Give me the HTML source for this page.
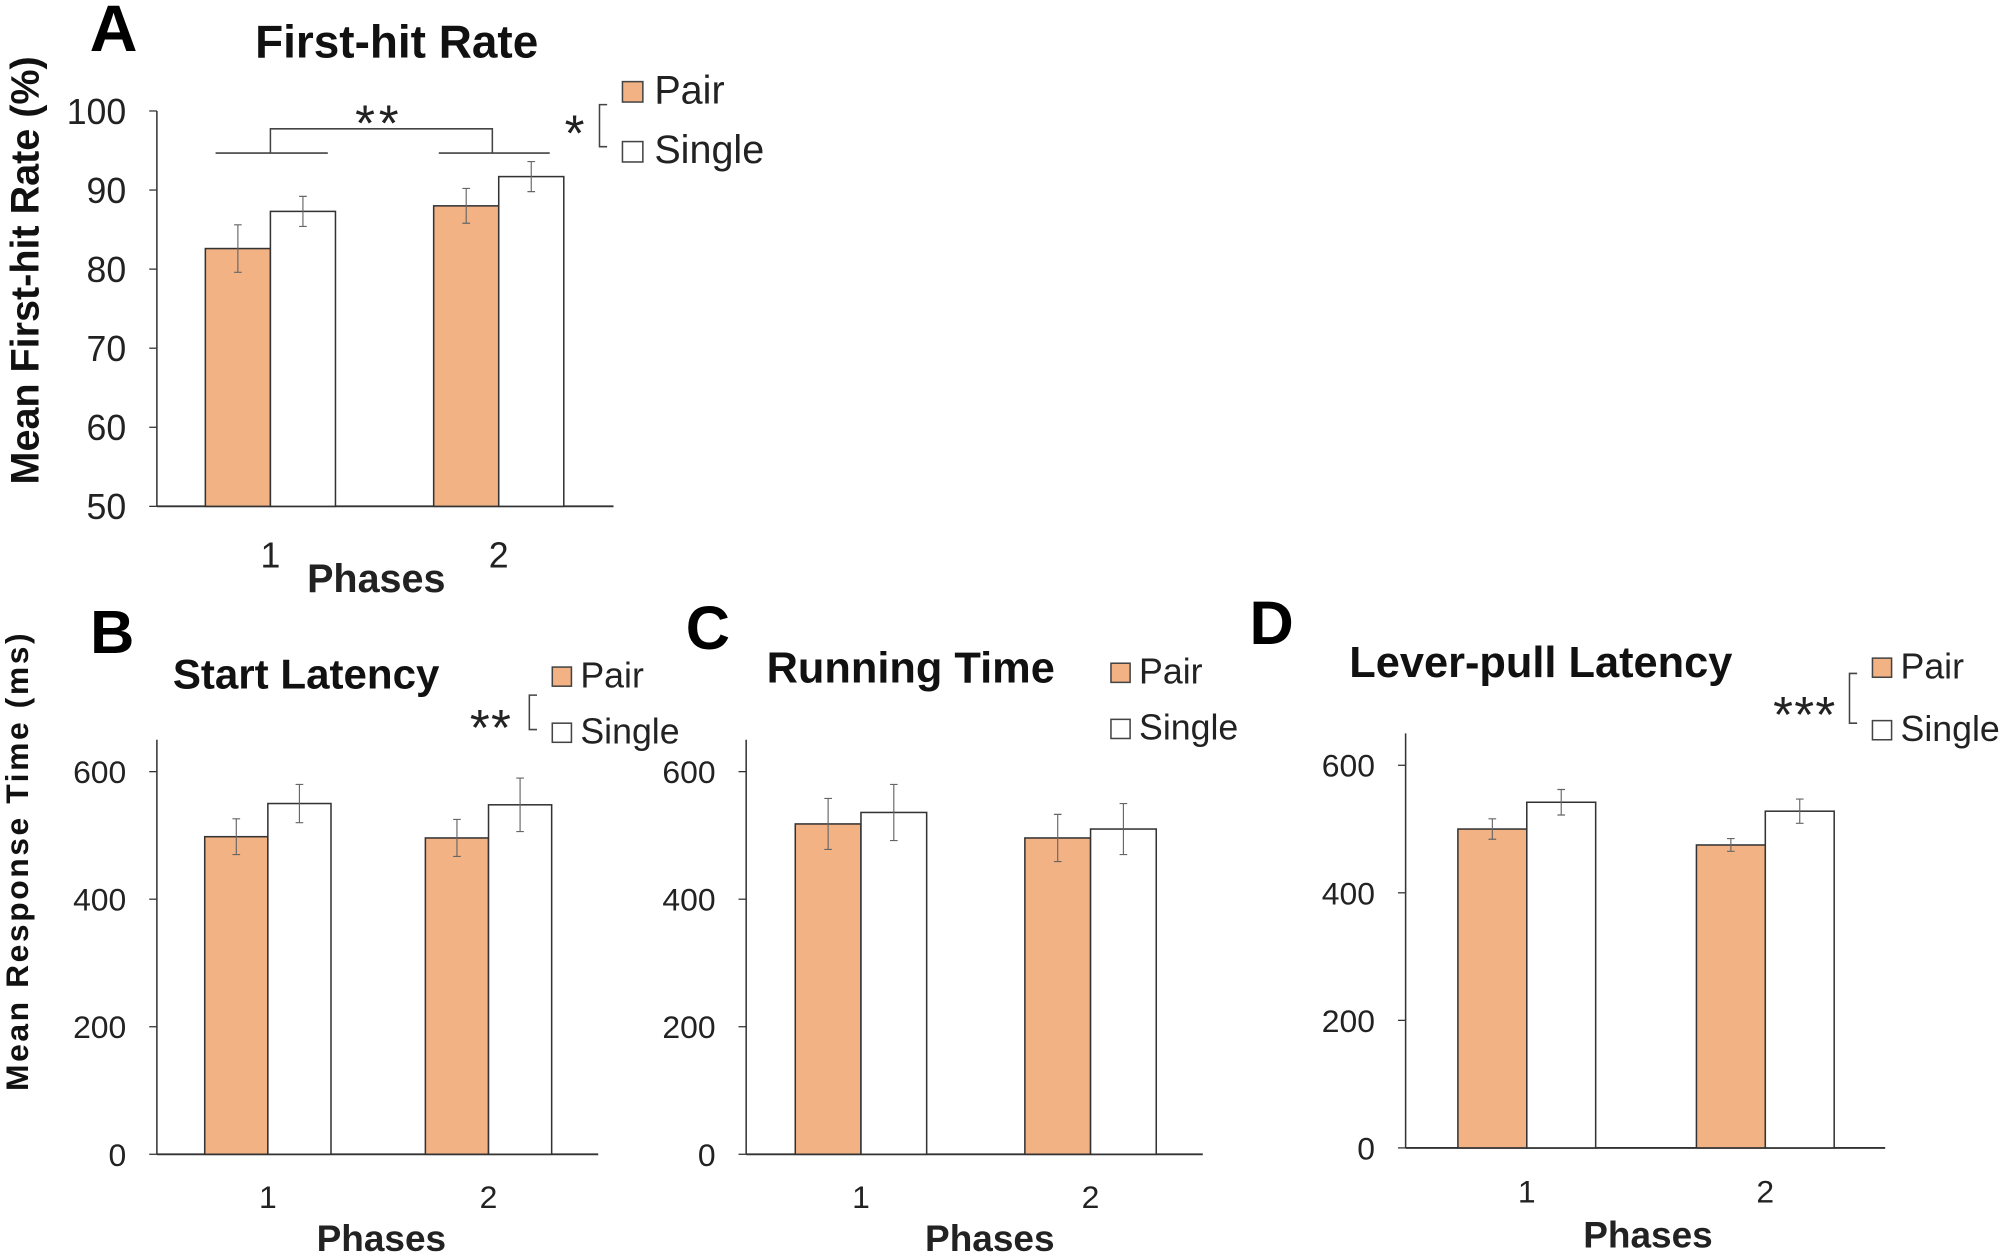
<!DOCTYPE html>
<html><head><meta charset="utf-8"><style>
html,body{margin:0;padding:0;background:#fff;}
svg{display:block;font-family:"Liberation Sans",Arial,sans-serif;}
</style></head><body>
<svg id="fig" width="2000" height="1253" viewBox="0 0 1568 982.4" preserveAspectRatio="none" xmlns="http://www.w3.org/2000/svg"></svg>
<script>
// ---- data ----
const categories = ["1","2"];
const aPair = [82.6, 88.0];
const aSingle = [87.3, 91.7];
const aPairErr = [3.0, 2.2];
const aSingleErr = [1.9, 1.9];
const aTicks = [50,60,70,80,90,100];

const bPair = [498, 496];
const bSingle = [550, 548];
const bPairErr = [28, 29];
const bSingleErr = [30, 42];

const cPair = [518, 496];
const cSingle = [536, 510];
const cPairErr = [40, 37];
const cSingleErr = [44, 40];

const dPair = [500, 475];
const dSingle = [542, 528];
const dPairErr = [16, 10];
const dSingleErr = [20, 19];
const msTicks = [0,200,400,600];

const NS="http://www.w3.org/2000/svg";
const svg=document.getElementById('fig');
function mk(tag,attrs,parent){const e=document.createElementNS(NS,tag);for(const k in attrs)e.setAttribute(k,attrs[k]);(parent||svg).appendChild(e);return e;}
function txt(s,attrs,parent){const e=mk('text',attrs,parent);e.textContent=s;return e;}

function panel(cfg){
  const g=mk('g',{});
  
  
  const y=v=>cfg.y0-(v-cfg.vmin)/(cfg.vmax-cfg.vmin)*(cfg.y0-cfg.yTop);
  const ya=mk('line',{x1:cfg.ax,y1:cfg.axTop,x2:cfg.ax,y2:cfg.y0,stroke:'#333','stroke-width':1.2},g);
  
  const xa=mk('line',{x1:cfg.ax,y1:cfg.y0,x2:cfg.axRight,y2:cfg.y0,stroke:'#333','stroke-width':1.5},g);
  
  cfg.ticks.forEach(t=>{
    mk('line',{x1:cfg.ax-6,y1:y(t),x2:cfg.ax,y2:y(t),stroke:'#333','stroke-width':1},g);
    const tl=txt(String(t),{x:cfg.ax-24,y:y(t)+cfg.tickFs*0.36,'text-anchor':'end','font-size':cfg.tickFs,fill:'#222'},g);
    
  });
  categories.forEach((c,i)=>{
    const gx=cfg.groupX[i], w=cfg.barW;
    const series=[[cfg.pair,cfg.pairErr,'#f3b284','pair'],[cfg.single,cfg.singleErr,'#ffffff','single']];
    series.forEach((s,j)=>{
      const x=gx-w+j*w, v=s[0][i], e=s[1][i];
      const r=mk('rect',{x:x,y:y(v),width:w,height:cfg.y0-y(v),fill:s[2],stroke:'#333','stroke-width':1.2},g);
      
      const cx=x+w/2;
      const eb=mk('path',{d:`M${cx},${y(v+e)}V${y(v-e)}M${cx-3},${y(v+e)}H${cx+3}M${cx-3},${y(v-e)}H${cx+3}`,stroke:'#666','stroke-width':0.9,fill:'none'},g);
      
    });
    const cl=txt(c,{x:gx,y:cfg.catY,'text-anchor':'middle','font-size':cfg.tickFs,fill:'#222'},g);
    
  });
  const xt=txt('Phases',{x:cfg.phX,y:cfg.phY,'text-anchor':'middle','font-size':cfg.phFs,'font-weight':'bold',fill:'#222'},g);
  
  const tt=txt(cfg.title,{x:cfg.titleX,y:cfg.titleY,'text-anchor':'middle','font-size':cfg.titleFs,'font-weight':'bold',fill:'#111'},g);
  
  const lt=txt(cfg.letter,{x:cfg.letterX,y:cfg.letterY,'text-anchor':'middle','font-size':cfg.letterFs,'font-weight':'bold',fill:'#000'},g);
  
  const L=cfg.leg;
  const p=mk('rect',{x:L.bx,y:L.py,width:L.bs,height:L.bs,fill:'#f3b284',stroke:'#444','stroke-width':1.2},g);
  
  const pt=txt('Pair',{x:L.tx,y:L.py+L.bs+1,'font-size':L.fs,fill:'#222'},g);
  
  const s=mk('rect',{x:L.bx,y:L.sy,width:L.bs,height:L.bs,fill:'#fff',stroke:'#444','stroke-width':1.2},g);
  
  const st=txt('Single',{x:L.tx,y:L.sy+L.bs+1,'font-size':L.fs,fill:'#222'},g);
  
  if(cfg.sig){
    const S=cfg.sig;
    const br=mk('path',{d:`M${S.x+6},${S.y1}H${S.x}V${S.y2}H${S.x+6}`,stroke:'#444','stroke-width':1.2,fill:'none'},g);
    
    const sm=txt(S.mark,{x:S.tx,y:S.ty,'text-anchor':'middle','font-size':40,fill:'#222','letter-spacing':1},g);
    
  }
  return g;
}

panel({name:'panel-a',letter:'A',letterX:89,letterY:40,letterFs:52,title:'First-hit Rate',titleX:311,titleY:45,titleFs:36,
  ax:123,axTop:87,axRight:481,y0:397,yTop:87,vmin:50,vmax:100,ticks:aTicks,tickFs:28,
  groupX:[212,391],barW:51,pair:aPair,single:aSingle,pairErr:aPairErr,singleErr:aSingleErr,
  catY:445,phX:295,phY:464,phFs:31,
  leg:{bx:488,bs:16,py:64,sy:111,tx:513,fs:31},
  sig:{x:470,y1:82,y2:115,mark:'*',tx:451,ty:118}});
const gb=mk('path',{d:'M169,120H257M344,120H431M212,120V101H386V120',stroke:'#444','stroke-width':1.2,fill:'none'});


const gm=txt('**',{x:297,y:110,'text-anchor':'middle','font-size':40,fill:'#222','letter-spacing':3});



panel({name:'panel-b',letter:'B',letterX:88,letterY:512,letterFs:48,title:'Start Latency',titleX:240,titleY:540,titleFs:33,
  ax:123,axTop:580,axRight:469,y0:905,yTop:605,vmin:0,vmax:600,ticks:msTicks,tickFs:25,
  groupX:[210,383],barW:49.5,pair:bPair,single:bSingle,pairErr:bPairErr,singleErr:bSingleErr,
  catY:947,phX:299,phY:981,phFs:29,
  leg:{bx:433,bs:15,py:523,sy:567,tx:455,fs:28},
  sig:{x:415,y1:545,y2:572,mark:'**',tx:385,ty:584}});

panel({name:'panel-c',letter:'C',letterX:555,letterY:509,letterFs:48,title:'Running Time',titleX:714,titleY:535,titleFs:34,
  ax:585,axTop:580,axRight:943,y0:905,yTop:605,vmin:0,vmax:600,ticks:msTicks,tickFs:25,
  groupX:[675,855],barW:51.5,pair:cPair,single:cSingle,pairErr:cPairErr,singleErr:cSingleErr,
  catY:947,phX:776,phY:981,phFs:29,
  leg:{bx:871,bs:15,py:520,sy:564,tx:893,fs:28}});

panel({name:'panel-d',letter:'D',letterX:997,letterY:505,letterFs:48,title:'Lever-pull Latency',titleX:1208,titleY:531,titleFs:34,
  ax:1102,axTop:575,axRight:1478,y0:900,yTop:600,vmin:0,vmax:600,ticks:msTicks,tickFs:25,
  groupX:[1197,1384],barW:54,pair:dPair,single:dSingle,pairErr:dPairErr,singleErr:dSingleErr,
  catY:943,phX:1292,phY:978,phFs:29,
  leg:{bx:1468,bs:15,py:516,sy:565,tx:1490,fs:28},
  sig:{x:1450,y1:528,y2:567,mark:'***',tx:1415,ty:574}});

const ya1=txt('Mean First-hit Rate (%)',{x:0,y:0,transform:'translate(30,212) rotate(-90)','text-anchor':'middle','font-size':31,'font-weight':'bold',fill:'#111'});


const ya2=txt('Mean Response Time (ms)',{x:0,y:0,transform:'translate(22,675) rotate(-90)','text-anchor':'middle','font-size':25,'font-weight':'bold',fill:'#111','letter-spacing':2});


</script>
</body></html>
